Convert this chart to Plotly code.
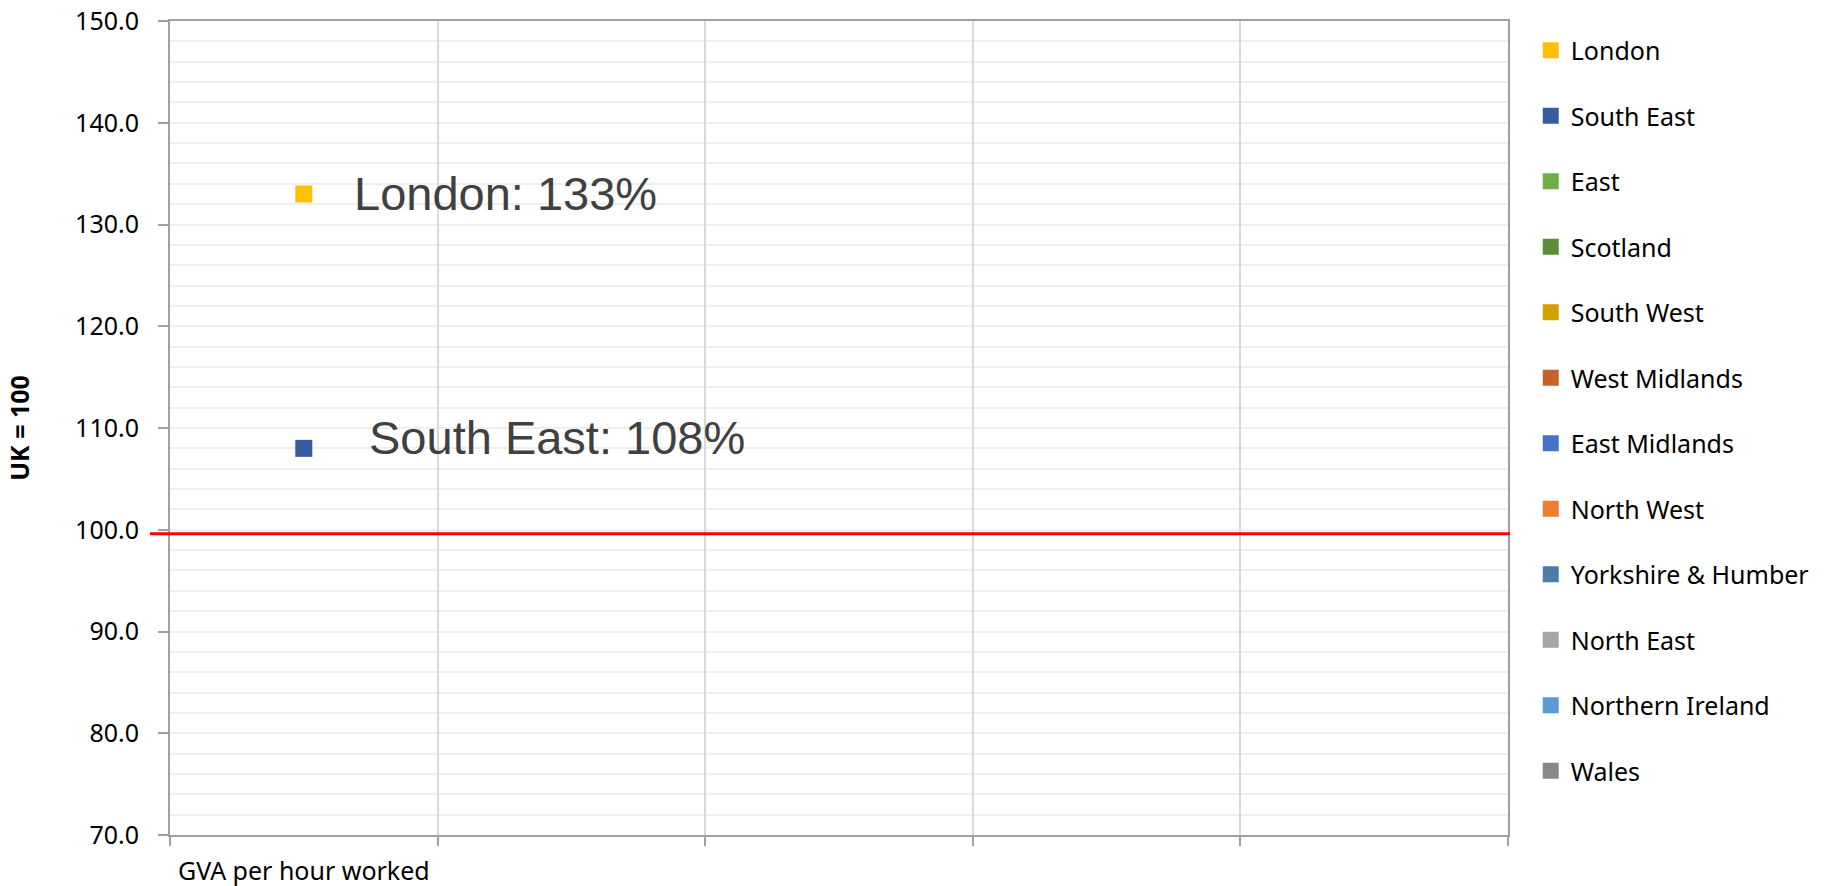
import plotly.graph_objects as go

# ---------------- data ----------------
regions = ["London", "South East", "East", "Scotland", "South West", "West Midlands",
           "East Midlands", "North West", "Yorkshire & Humber", "North East",
           "Northern Ireland", "Wales"]
values = [133, 108, None, None, None, None, None, None, None, None, None, None]
colors = ["#FFC000", "#355C9F", "#70AD47", "#5A8E3B", "#D3A000", "#C4622A",
          "#4472C4", "#ED7D31", "#4A7CAC", "#A5A5A5", "#5B9BD5", "#878787"]
x_categories = ["GVA per hour worked", " ", "  ", "   ", "    "]
y_ticks = [70, 80, 90, 100, 110, 120, 130, 140, 150]
uk_line = 99.6
label_positions = {"London": (0.136, 133.0), "South East": (0.147, 109.1)}

W, H = 1833, 886
fig = go.Figure()

for name, val, col in zip(regions, values, colors):
    fig.add_trace(go.Scatter(
        x=[x_categories[0]], y=[val], mode="markers", name=name,
        legendgroup=name,
        marker=dict(symbol="square", size=17, color=col, line=dict(width=0)),
        hoverinfo="name+y",
    ))

for name, val in zip(regions, values):
    if val is None or name not in label_positions:
        continue
    px, py = label_positions[name]
    fig.add_annotation(
        x=px, xref="paper", y=py, yref="y", text=f"{name}: {val}%",
        showarrow=False, xanchor="left", yanchor="middle",
        font=dict(family="Liberation Sans, Arial", size=47, color="#404040"),
    )

fig.add_shape(type="line", xref="paper", yref="y", x0=-0.015, x1=1.0015,
              y0=uk_line, y1=uk_line, line=dict(color="#FF0000", width=3))

axis_col = "#A0A0A0"
tick_font = dict(family="Noto Sans", size=25, color="#000000")

fig.update_layout(
    width=W, height=H,
    margin=dict(l=170, r=325, t=21, b=51, autoexpand=False),
    paper_bgcolor="white", plot_bgcolor="white",
    font=dict(family="Noto Sans", color="#000000"),
    showlegend=True,
    legend=dict(
        x=1.017, xanchor="left", y=0.992, yanchor="top",
        font=dict(family="Noto Sans", size=25, color="#000000"),
        tracegroupgap=30, traceorder="grouped",
        bgcolor="rgba(0,0,0,0)", itemclick=False,
    ),
    xaxis=dict(
        type="category", categoryorder="array", categoryarray=x_categories,
        tickvals=x_categories, ticktext=x_categories,
        range=[-0.5, 4.5], tickson="boundaries",
        ticks="outside", ticklen=9, tickwidth=2, tickcolor=axis_col,
        showgrid=True, gridcolor="#D9D9D9", gridwidth=2,
        showline=True, linecolor=axis_col, linewidth=2, mirror=True,
        tickfont=tick_font, ticklabelstandoff=13, zeroline=False,
    ),
    yaxis=dict(
        range=[70, 150], tickvals=y_ticks, tickformat=".1f",
        ticks="outside", ticklen=10, tickwidth=2, tickcolor=axis_col,
        showgrid=False, zeroline=False,
        showline=True, linecolor=axis_col, linewidth=2, mirror=True,
        tickfont=tick_font, ticklabelstandoff=14,
        minor=dict(dtick=2, tick0=70, showgrid=True, gridcolor="#EFEFEF", gridwidth=2, ticks=""),
        title=dict(text="<b>UK = 100</b>", font=dict(family="Noto Sans", size=25, color="#000000"),
                   standoff=38),
    ),
)

fig.write_html("out.html", config={"displayModeBar": False},
               post_script="document.body.style.margin='0';document.body.style.overflow='hidden';")
